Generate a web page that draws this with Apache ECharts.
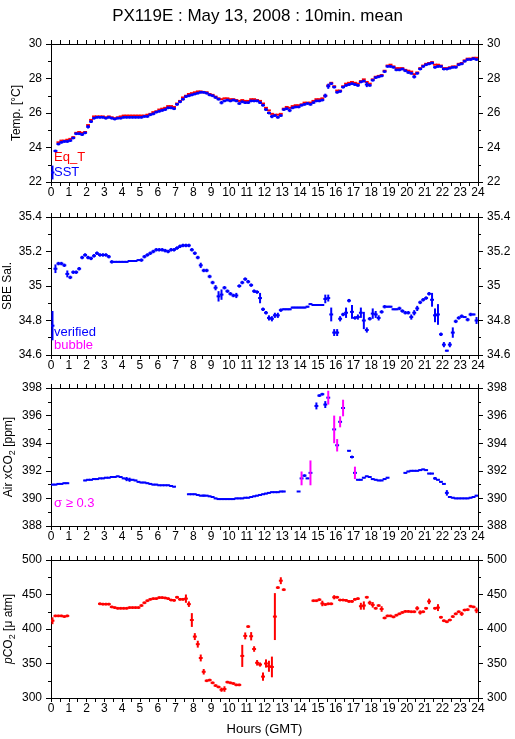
<!DOCTYPE html>
<html>
<head>
<meta charset="utf-8">
<script src="https://cdn.jsdelivr.net/npm/echarts@6/dist/echarts.min.js"></script>
<style>
html,body{margin:0;padding:0;background:#fff;}
#chart{width:515px;height:739px;}
</style>
</head>
<body>
<div id="chart"></div>
<script>
// 10-minute slots (144 per day); hour of slot centre
const SLOTS = 144;
const HOURS = Array.from({length: SLOTS}, (_, i) => (i + 0.5) / 6);

// ---- Panel 1: temperatures (degC) ----
const SST = [
  22.55, 23.8, 24.2, 24.3, 24.35, 24.35,
  24.4, 24.55, 24.8, 24.8, 24.75, 24.85,
  25.2, 25.5, 25.7, 25.75, 25.75, 25.75,
  25.7, 25.75, 25.7, 25.65, 25.7, 25.7,
  25.75, 25.75, 25.75, 25.75, 25.75, 25.75,
  25.75, 25.8, 25.8, 25.9, 25.95, 26.05,
  26.1, 26.15, 26.2, 26.3, 26.3, 26.25,
  26.5, 26.65, 26.8, 26.95, 27.0, 27.05,
  27.1, 27.15, 27.2, 27.2, 27.15, 27.05,
  27.0, 26.9, 26.8, 26.6, 26.7, 26.75,
  26.7, 26.75, 26.7, 26.55, 26.65, 26.6,
  26.6, 26.7, 26.7, 26.7, 26.6, 26.45,
  26.2, 26.0, 25.8, 25.85, 25.75, 25.85,
  26.2, 26.25, 26.15, 26.3, 26.35, 26.35,
  26.45, 26.5, 26.55, 26.5, 26.6, 26.7,
  26.7, 26.75, 27.0, 27.55, 27.7, 27.5,
  27.2, 27.25, 27.5, 27.6, 27.65, 27.7,
  27.65, 27.6, 27.8, 27.85, 27.65, 27.6,
  27.9, 28.05, 28.1, 28.15, 28.4, 28.7,
  28.7, 28.65, 28.5, 28.5, 28.55, 28.45,
  28.35, 28.3, 28.1, 28.3, 28.55, 28.7,
  28.8, 28.85, 28.9, 28.65, 28.7, 28.7,
  28.55, 28.55, 28.6, 28.65, 28.65, 28.8,
  28.85, 29.0, 29.1, 29.1, 29.15, 29.1
];
const SST_ERR = [
  0.4, 0.08, 0.08, 0.08, 0.08, 0.08,
  0.08, 0.08, 0.08, 0.08, 0.08, 0.08,
  0.1, 0.08, 0.08, 0.08, 0.08, 0.08,
  0.08, 0.08, 0.08, 0.08, 0.08, 0.08,
  0.08, 0.08, 0.08, 0.08, 0.08, 0.08,
  0.08, 0.08, 0.08, 0.08, 0.08, 0.08,
  0.08, 0.08, 0.08, 0.08, 0.08, 0.08,
  0.08, 0.08, 0.08, 0.08, 0.08, 0.08,
  0.08, 0.08, 0.08, 0.08, 0.08, 0.08,
  0.08, 0.08, 0.08, 0.1, 0.08, 0.08,
  0.08, 0.08, 0.08, 0.08, 0.08, 0.08,
  0.08, 0.08, 0.08, 0.08, 0.08, 0.08,
  0.08, 0.08, 0.1, 0.08, 0.08, 0.08,
  0.08, 0.08, 0.1, 0.08, 0.08, 0.08,
  0.08, 0.08, 0.08, 0.08, 0.08, 0.08,
  0.08, 0.08, 0.12, 0.15, 0.08, 0.08,
  0.08, 0.08, 0.08, 0.08, 0.08, 0.08,
  0.08, 0.08, 0.08, 0.08, 0.15, 0.08,
  0.08, 0.08, 0.08, 0.08, 0.08, 0.08,
  0.08, 0.08, 0.08, 0.08, 0.08, 0.08,
  0.08, 0.08, 0.1, 0.08, 0.08, 0.08,
  0.08, 0.08, 0.08, 0.08, 0.08, 0.08,
  0.08, 0.08, 0.08, 0.08, 0.08, 0.08,
  0.08, 0.08, 0.08, 0.08, 0.08, 0.08
];
const EQT = [
  null, null, 24.3, 24.4, 24.4, 24.45,
  24.5, 24.6, 24.85, 24.9, 24.85, 24.9,
  25.3, 25.6, 25.8, 25.8, 25.8, 25.8,
  25.75, 25.8, 25.75, 25.7, 25.75, 25.8,
  25.85, 25.85, 25.85, 25.85, 25.85, 25.85,
  25.85, 25.85, 25.9, 25.95, 26.05, 26.1,
  26.2, 26.25, 26.3, 26.4, 26.4, 26.35,
  26.55, 26.7, 26.9, 27.0, 27.1, 27.15,
  27.2, 27.25, 27.25, 27.2, 27.2, 27.1,
  27.05, 26.95, 26.85, 26.8, 26.85, 26.85,
  26.8, 26.8, 26.75, 26.7, 26.75, 26.7,
  26.7, 26.8, 26.8, 26.75, 26.7, 26.55,
  26.3, 26.15, 25.95, 25.9, 25.9, 25.95,
  26.25, 26.35, 26.3, 26.4, 26.45, 26.45,
  26.5, 26.6, 26.6, 26.6, 26.7, 26.8,
  26.8, 26.85, 27.0, 27.6, 27.75, 27.55,
  27.3, 27.3, 27.55, 27.7, 27.75, 27.8,
  27.75, 27.7, 27.85, 27.95, 27.8, 27.7,
  27.95, 28.1, 28.15, 28.2, 28.45, 28.75,
  28.8, 28.7, 28.6, 28.6, 28.6, 28.5,
  28.45, 28.4, 28.25, 28.35, 28.6, 28.75,
  28.85, 28.9, 28.95, 28.8, 28.8, 28.75,
  28.6, 28.6, 28.65, 28.7, 28.7, 28.85,
  28.9, 29.05, 29.15, 29.15, 29.2, 29.2
];

// ---- Panel 2: SBE salinity ----
const SAL = [
  34.77, 35.10, 35.13, 35.13, 35.12, 35.07,
  35.05, 35.08, 35.08, 35.10, 35.165, 35.18,
  35.165, 35.16, 35.175, 35.19, 35.18, 35.18,
  35.18, 35.17, 35.14, 35.14, 35.14, 35.14,
  35.14, 35.14, 35.145, 35.145, 35.145, 35.15,
  35.15, 35.17, 35.18, 35.19, 35.2, 35.21,
  35.21, 35.21, 35.205, 35.2, 35.21, 35.21,
  35.22, 35.23, 35.235, 35.235, 35.235, 35.21,
  35.19, 35.165, 35.12, 35.09, 35.09, 35.055,
  35.02, 34.99, 34.94, 34.95, 34.99, 34.97,
  34.955, 34.945, 34.945, 35.0, 35.02, 35.04,
  35.025, 35.005, 34.97, 34.965, 34.93, 34.865,
  34.845, 34.815, 34.81, 34.83, 34.83, 34.86,
  34.865, 34.865, 34.865, 34.875, 34.875, 34.875,
  34.875, 34.875, 34.88, 34.895, 34.89, 34.89,
  34.89, 34.89, 34.925, 34.93, 34.835, 34.73,
  34.73, 34.81, 34.835, 34.845, 34.915, 34.85,
  34.815, 34.82, 34.845, 34.8, 34.745, 34.81,
  34.84, 34.835, 34.815, 34.85, 34.88, 34.88,
  34.88, 34.865, 34.865, 34.87, 34.855, 34.845,
  34.845, 34.82, 34.845, 34.87, 34.905, 34.92,
  34.93, 34.955, 34.92, 34.83, 34.835, 34.72,
  34.66, 34.625, 34.66, 34.73, 34.795, 34.815,
  34.825, 34.82, 34.805, 34.835, 34.835, 34.8
];
const SAL_ERR = [
  0.085, 0.025, 0.01, 0.01, 0.01, 0.02,
  0.01, 0.01, 0.01, 0.01, 0.01, 0.01,
  0.01, 0.01, 0.01, 0.01, 0.01, 0.01,
  0.01, 0.01, 0.01, 0.005, 0.005, 0.005,
  0.005, 0.005, 0.005, 0.005, 0.005, 0.005,
  0.01, 0.01, 0.01, 0.01, 0.01, 0.01,
  0.01, 0.01, 0.01, 0.01, 0.01, 0.01,
  0.01, 0.01, 0.01, 0.01, 0.01, 0.01,
  0.01, 0.01, 0.015, 0.01, 0.01, 0.01,
  0.01, 0.015, 0.03, 0.03, 0.01, 0.01,
  0.01, 0.01, 0.015, 0.01, 0.01, 0.01,
  0.01, 0.01, 0.01, 0.01, 0.03, 0.01,
  0.01, 0.015, 0.015, 0.015, 0.015, 0.01,
  0.005, 0.005, 0.005, 0.005, 0.005, 0.005,
  0.005, 0.005, 0.005, 0.005, 0.005, 0.005,
  0.005, 0.005, 0.025, 0.02, 0.04, 0.02,
  0.02, 0.015, 0.01, 0.03, 0.01, 0.04,
  0.01, 0.015, 0.03, 0.05, 0.015, 0.01,
  0.03, 0.02, 0.015, 0.01, 0.01, 0.005,
  0.005, 0.005, 0.005, 0.01, 0.01, 0.01,
  0.01, 0.015, 0.015, 0.015, 0.01, 0.01,
  0.01, 0.01, 0.04, 0.04, 0.06, 0.01,
  0.015, 0.005, 0.015, 0.03, 0.01, 0.01,
  0.01, 0.005, 0.01, 0.01, 0.005, 0.02
];

// ---- Panel 3: atmospheric xCO2 (ppm) ----
const XCO2 = [
  391.0, 391.0, 391.05, 391.05, 391.1, 391.1,
  null, null, null, null, null, 391.3,
  391.35, 391.35, 391.4, 391.4, 391.45, 391.45,
  391.5, 391.5, 391.55, 391.55, 391.6, 391.55,
  391.45, 391.4, 391.35, 391.35, 391.3, 391.2,
  391.15, 391.15, 391.1, 391.05, 391.0, 391.0,
  390.95, 390.95, 390.95, 390.95, 390.9, 390.85,
  null, null, null, null, 390.3, 390.3,
  390.3, 390.25, 390.2, 390.2, 390.2, 390.15,
  390.1, 390.0, 389.95, 389.95, 389.95, 389.95,
  389.95, 389.95, 390.0, 390.0, 390.0, 390.05,
  390.05, 390.1, 390.15, 390.2, 390.25, 390.3,
  390.35, 390.4, 390.45, 390.45, 390.45, 390.5,
  390.5, null, null, null, null, 390.5,
  391.45, 391.65, 391.45, 391.85, null, 396.7,
  397.45, 397.55, 396.8, 397.3, null, 395.0,
  393.85, 395.55, 396.55, null, 393.45, 393.0,
  391.85, 391.35, 391.35, 391.5, 391.6, 391.55,
  391.4, 391.35, 391.3, 391.3, 391.4, 391.5,
  null, null, null, null, null, 391.85,
  391.95, 392.0, 392.0, 392.0, 392.05, 392.1,
  392.05, 391.8, 391.8, 391.45, 391.35, 391.2,
  391.05, 390.4, 390.1, 390.05, 390.0, 390.0,
  390.0, 390.0, 390.0, 390.05, 390.1, 390.2
];
const XCO2_ERR = [
  0.05, 0.05, 0.05, 0.05, 0.05, 0.05,
  0, 0, 0, 0, 0, 0.05,
  0.05, 0.05, 0.05, 0.05, 0.05, 0.05,
  0.05, 0.05, 0.05, 0.05, 0.05, 0.05,
  0.05, 0.15, 0.15, 0.05, 0.05, 0.05,
  0.05, 0.05, 0.05, 0.05, 0.05, 0.05,
  0.05, 0.05, 0.05, 0.05, 0.05, 0.05,
  0, 0, 0, 0, 0.05, 0.05,
  0.05, 0.05, 0.05, 0.08, 0.05, 0.05,
  0.05, 0.05, 0.05, 0.05, 0.05, 0.05,
  0.05, 0.05, 0.05, 0.05, 0.05, 0.05,
  0.05, 0.05, 0.05, 0.05, 0.05, 0.05,
  0.05, 0.05, 0.05, 0.05, 0.05, 0.05,
  0.05, 0, 0, 0, 0, 0,
  0.5, 0.1, 0.05, 0.9, 0, 0.25,
  0.1, 0.1, 0.25, 0.5, 0, 1.0,
  0.45, 0.4, 0.6, 0, 0.05, 0.1,
  0.45, 0.05, 0.05, 0.05, 0.05, 0.05,
  0.05, 0.05, 0.05, 0.05, 0.05, 0.05,
  0, 0, 0, 0, 0, 0.05,
  0.05, 0.05, 0.05, 0.05, 0.05, 0.05,
  0.05, 0.05, 0.05, 0.1, 0.05, 0.05,
  0.05, 0.2, 0.05, 0.05, 0.05, 0.05,
  0.05, 0.05, 0.05, 0.05, 0.05, 0.05
];

// ---- Panel 4: seawater pCO2 (uatm) ----
const PCO2 = [
  412, 419, 419, 419, 418, 419,
  null, null, null, null, null, null,
  null, null, null, null, 436.5, 436,
  436, 436, 432, 431, 430, 430,
  430, 430, 431, 431, 431, 431,
  434, 438, 441, 443, 444, 444,
  445.5, 445.5, 445, 444, 442, 441.5,
  446, 443, 443, 444, 436, 413,
  389, 378, 358, 338, 325, 326,
  322, 318, 316, 312, 313, 323,
  322, 321, 319, 319, 361, 390,
  403.5, 389.5, 371, 351, 348.5, 331,
  350, 346, 345, 418, 460, 470,
  457, null, null, null, null, null,
  null, null, null, null, 441, 441,
  442.5, 437, 435.5, 436.5, 436.5, 446,
  446, 442, 442, 441.5, 440, 440,
  443, 444, 433, 434, 446, 438,
  435, 430, 434, 429, 416, 419,
  419, 417.5, 420, 422, 424, 425.5,
  425.5, 425, 425, 430, 424, 425,
  430, 440, null, 430, 431, 417,
  412, 410.5, 413, 418, 422, 425,
  422, 427.5, 428, 433, 432, 427
];
const PCO2_ERR = [
  5, 2, 2, 2, 2, 2,
  0, 0, 0, 0, 0, 0,
  0, 0, 0, 0, 2, 2,
  2, 2, 2, 2, 2, 2,
  2, 2, 2, 2, 2, 2,
  2, 2, 2, 2, 2, 2,
  2, 2, 2, 2, 2, 2,
  2, 2, 2, 6, 4, 10,
  5, 5, 5, 4, 2, 2,
  2, 2, 2, 3, 4, 2,
  2, 2, 2, 2, 16, 5,
  2, 6, 4, 4, 3, 6,
  6, 8, 15, 34, 2, 5,
  2, 0, 0, 0, 0, 0,
  0, 0, 0, 0, 2, 2,
  2, 4, 2, 2, 2, 3,
  2, 2, 2, 2, 2, 2,
  2, 2, 5, 6, 2, 3,
  4, 2, 2, 4, 2, 2,
  2, 2, 2, 2, 2, 2,
  2, 2, 2, 3, 3, 2,
  2, 4, 0, 2, 5, 2,
  2, 2, 2, 2, 2, 2,
  3, 2, 2, 2, 2, 4
];

const TITLE = 'PX119E : May 13, 2008 : 10min. mean';
const X_NAME = 'Hours (GMT)';
const SIGMA_LIMIT = 0.3;

const RED = '#ff0000', BLUE = '#0000ff', MAGENTA = '#ff00ff';
const HALF = 0.11; // half width of the 10-min bar in hours
const FONT = 'Liberation Sans, Arial, Helvetica, sans-serif';

const GRID_TOPS = [44, 217, 388, 560];
const GRID_H = 138;

function toData(vals, errs) {
  const out = [];
  for (let i = 0; i < vals.length; i++) {
    if (vals[i] === null || vals[i] === undefined) continue;
    out.push([HOURS[i], vals[i], errs ? errs[i] : 0]);
  }
  return out;
}

function makeRender(color, sigmaColor) {
  return function (params, api) {
    const x = api.value(0), y = api.value(1), e = api.value(2);
    const a = api.coord([x - HALF, y]);
    const b = api.coord([x + HALF, y]);
    const children = [{
      type: 'line',
      shape: {x1: a[0], y1: a[1], x2: b[0], y2: b[1]},
      style: {stroke: color, lineWidth: 2}
    }];
    if (e > 0) {
      const t = api.coord([x, y + e]);
      const d = api.coord([x, y - e]);
      const vc = (sigmaColor && e >= SIGMA_LIMIT) ? sigmaColor : color;
      children.push({
        type: 'line',
        shape: {x1: t[0], y1: t[1], x2: d[0], y2: d[1]},
        style: {stroke: vc, lineWidth: 2}
      });
    }
    return {type: 'group', children: children};
  };
}

const axisLabelStyle = {color: '#000', fontSize: 12, fontFamily: FONT};
const axisLineStyle = {show: true, onZero: false, lineStyle: {color: '#000', width: 1}};

const grids = [], xAxes = [], yAxes = [];
const yCfg = [
  {min: 22, max: 30, interval: 2, name: 'Temp. [°C]', gap: 28},
  {min: 34.6, max: 35.4, interval: 0.2, name: 'SBE Sal.', gap: 37},
  {min: 388, max: 398, interval: 2, name: '{n|Air xCO}{s|2}{n| [ppm]}', gap: 34},
  {min: 300, max: 500, interval: 50, name: '{i|p}{n|CO}{s|2}{n| [μ atm]}', gap: 34}
];

GRID_TOPS.forEach((top, g) => {
  grids.push({left: 51, width: 427, top: top, height: GRID_H, show: true,
    borderWidth: 0, backgroundColor: '#fff', containLabel: false, outerBoundsMode: 'none'});
  // bottom x axis (labels)
  xAxes.push({
    type: 'value', gridIndex: g, position: 'bottom', min: 0, max: 24, interval: 1,
    boundaryGap: [0, 0],
    axisLine: axisLineStyle,
    axisTick: {show: true, length: 4, lineStyle: {color: '#000'}},
    minorTick: {show: true, splitNumber: 2, length: 4, lineStyle: {color: '#000'}},
    splitLine: {show: false},
    axisLabel: Object.assign({margin: 5}, axisLabelStyle),
    name: g === 3 ? X_NAME : '',
    nameLocation: 'middle', nameGap: 25, nameMoveOverlap: false,
    nameTextStyle: {color: '#000', fontSize: 13, fontFamily: FONT}
  });
  // top x axis (ticks only)
  xAxes.push({
    type: 'value', gridIndex: g, position: 'top', min: 0, max: 24, interval: 1,
    boundaryGap: [0, 0],
    axisLine: axisLineStyle,
    axisTick: {show: true, length: 4, lineStyle: {color: '#000'}},
    minorTick: {show: true, splitNumber: 2, length: 4, lineStyle: {color: '#000'}},
    splitLine: {show: false},
    axisLabel: {show: false}
  });
  const c = yCfg[g];
  const yBase = {
    type: 'value', gridIndex: g, min: c.min, max: c.max, interval: c.interval,
    boundaryGap: [0, 0],
    axisLine: axisLineStyle,
    axisTick: {show: true, length: 5, lineStyle: {color: '#000'}},
    minorTick: {show: true, splitNumber: 2, length: 3, lineStyle: {color: '#000'}},
    splitLine: {show: false}
  };
  yAxes.push(Object.assign({}, yBase, {
    position: 'left',
    axisLabel: Object.assign({margin: 9, formatter: v => String(+v.toFixed(2))}, axisLabelStyle),
    name: c.name, nameLocation: 'middle', nameGap: c.gap, nameRotate: 90, nameMoveOverlap: false,
    nameTextStyle: {
      color: '#000', fontSize: 12, fontFamily: FONT,
      rich: {
        n: {fontSize: 12, fontFamily: FONT, color: '#000', lineHeight: 14},
        i: {fontSize: 12, fontFamily: FONT, color: '#000', fontStyle: 'italic', lineHeight: 14},
        s: {fontSize: 9, fontFamily: FONT, color: '#000', verticalAlign: 'top', padding: [7, 0, 0, 0]}
      }
    }
  }));
  yAxes.push(Object.assign({}, yBase, {
    position: 'right',
    axisLabel: Object.assign({margin: 9, formatter: v => String(+v.toFixed(2))}, axisLabelStyle)
  }));
});

function series(g, vals, errs, color, sigmaColor, z) {
  return {
    type: 'custom', xAxisIndex: g * 2, yAxisIndex: g * 2, clip: true, z: z || 2,
    renderItem: makeRender(color, sigmaColor),
    encode: {x: 0, y: 1},
    data: toData(vals, errs),
    silent: true, animation: false
  };
}

const chart = echarts.init(document.getElementById('chart'), null, {renderer: 'canvas'});
chart.setOption({
  animation: false,
  backgroundColor: '#fff',
  title: {
    text: TITLE, left: 'center', top: 3,
    textStyle: {color: '#000', fontSize: 17, fontWeight: 'normal', fontFamily: FONT}
  },
  grid: grids,
  xAxis: xAxes,
  yAxis: yAxes,
  series: [
    series(0, EQT, null, RED, null, 2),
    series(0, SST, SST_ERR, BLUE, null, 3),
    series(1, SAL, SAL_ERR, BLUE, null, 2),
    series(2, XCO2, XCO2_ERR, BLUE, MAGENTA, 2),
    series(3, PCO2, PCO2_ERR, RED, null, 2)
  ],
  graphic: [
    {type: 'text', left: 54, top: 151, style: {text: 'Eq_T', fill: RED, fontSize: 13, fontFamily: FONT}},
    {type: 'text', left: 54, top: 166, style: {text: 'SST', fill: BLUE, fontSize: 13, fontFamily: FONT}},
    {type: 'text', left: 54, top: 326, style: {text: 'verified', fill: BLUE, fontSize: 13, fontFamily: FONT}},
    {type: 'text', left: 54, top: 339, style: {text: 'bubble', fill: MAGENTA, fontSize: 13, fontFamily: FONT}},
    {type: 'text', left: 54, top: 497, style: {text: 'σ ≥ 0.3', fill: MAGENTA, fontSize: 13, fontFamily: FONT}}
  ]
});
</script>
</body>
</html>
